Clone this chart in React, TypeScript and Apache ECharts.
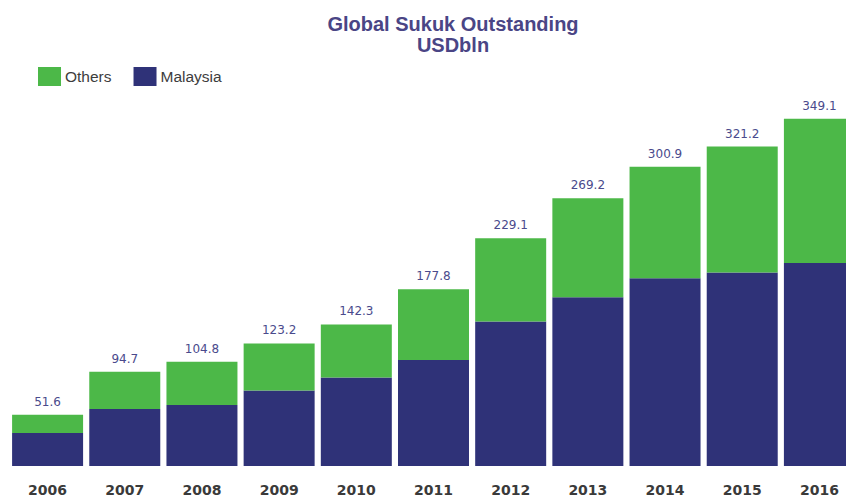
import React, { useEffect, useRef } from "react";
import * as echarts from "echarts";

const years = ["2006", "2007", "2008", "2009", "2010", "2011", "2012", "2013", "2014", "2015", "2016"];
const totals = [51.6, 94.7, 104.8, 123.2, 142.3, 177.8, 229.1, 269.2, 300.9, 321.2, 349.1];
const malaysia = [33.2, 57.2, 61.3, 75.9, 88.9, 106.5, 145.2, 169.7, 188.7, 194.7, 204.2];
const others = totals.map((t, i) => Math.round((t - malaysia[i]) * 10) / 10);

export default function App() {
  const ref = useRef<HTMLDivElement>(null);
  useEffect(() => {
    if (!ref.current) return;
    const chart = echarts.init(ref.current, null, { renderer: "svg" });
    chart.setOption({
      animation: false,
      backgroundColor: "#ffffff",
      title: {
        text: "Global Sukuk Outstanding\nUSDbln",
        left: 448,
        top: 8,
        textAlign: "center",
        textStyle: {
          fontFamily: "'Liberation Sans', Arial, sans-serif",
          fontWeight: "bold",
          fontSize: 20,
          lineHeight: 21,
          color: "#4a4585",
        },
      },
      legend: {
        data: ["Others", "Malaysia"],
        left: 33,
        top: 62,
        itemWidth: 23,
        itemHeight: 19,
        itemGap: 22,
        icon: "rect",
        textStyle: {
          fontFamily: "'Liberation Sans', Arial, sans-serif",
          fontSize: 15.5,
          color: "#3d3d3d",
          padding: [0, 0, 0, -1],
        },
      },
      grid: {
        left: 9,
        width: 849,
        top: 108,
        bottom: 33,
        containLabel: false,
        outerBoundsMode: "none",
      },
      xAxis: {
        type: "category",
        data: years,
        axisLine: { show: false },
        axisTick: { show: false },
        axisLabel: {
          margin: 17,
          fontFamily: "'DejaVu Sans', sans-serif",
          fontWeight: "bold",
          fontSize: 14,
          color: "#3a3a3a",
        },
      },
      yAxis: {
        type: "value",
        min: 0,
        max: 360,
        show: false,
        splitLine: { show: false },
      },
      series: [
        {
          name: "Malaysia",
          type: "bar",
          stack: "total",
          data: malaysia,
          barWidth: 71,
          itemStyle: { color: "#2f3278" },
        },
        {
          name: "Others",
          type: "bar",
          stack: "total",
          data: others,
          barWidth: 71,
          itemStyle: { color: "#4cb848" },
          label: {
            show: true,
            position: "top",
            distance: 7,
            formatter: (p: any) => totals[p.dataIndex].toFixed(1),
            fontFamily: "'DejaVu Sans', sans-serif",
            fontSize: 12,
            color: "#4a4a8c",
          },
        },
      ],
    });
    return () => chart.dispose();
  }, []);
  return (
    <div
      ref={ref}
      style={{ position: "fixed", left: 0, top: 0, width: 846, height: 499 }}
    />
  );
}
